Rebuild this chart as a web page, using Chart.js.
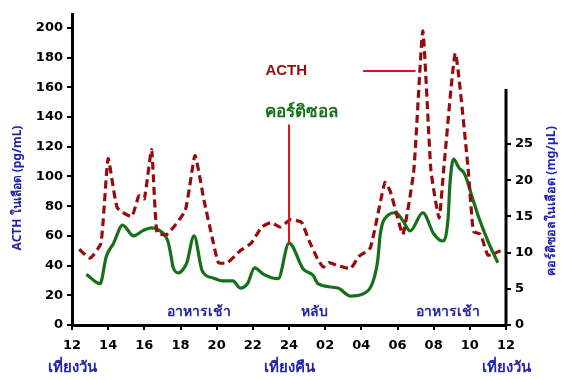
<!DOCTYPE html>
<html><head><meta charset="utf-8">
<script src="https://cdn.jsdelivr.net/npm/chart.js@4.4.0/dist/chart.umd.min.js"></script>
<style>html,body{margin:0;padding:0;background:#fff}</style>
</head><body>
<canvas id="c" width="570" height="380"></canvas>
<script>
// ---- data ----
const acthHours  = [12.4, 13.0, 13.6, 14.0, 14.5, 15.3, 15.7, 16.0, 16.4, 16.7, 17.25, 18.26, 18.8, 19.3, 19.75, 20.1, 20.6, 21.3, 21.9, 22.5, 23.0, 23.5, 24.1, 24.7, 25.1, 25.6, 25.9, 26.2, 26.7, 27.4, 27.85, 28.5, 29.3, 29.6, 29.9, 30.3, 30.9, 31.4, 31.85, 32.3, 32.55, 33.2, 33.9, 34.2, 34.6, 35.0, 35.7];
const acthValues = [51, 45, 55, 112, 79, 73, 87, 85, 118, 62, 61, 77, 114, 84, 59, 42, 42, 50, 55, 66, 69, 66, 71, 69, 57, 44, 39, 42, 40, 38, 46, 52, 96, 90, 77, 61, 104, 198, 104, 72, 104, 183, 106, 63, 61, 47, 50];
const cortHours  = [12.8, 13.55, 13.9, 14.3, 14.8, 15.4, 15.9, 16.4, 16.8, 17.3, 17.45, 17.6, 17.9, 18.15, 18.35, 18.75, 19.2, 19.8, 20.3, 20.9, 21.3, 21.7, 22.1, 22.6, 23.4, 24.0, 24.8, 25.35, 25.6, 26.7, 27.4, 28.1, 28.6, 28.9, 29.05, 29.45, 29.9, 30.3, 30.7, 31.4, 32.0, 32.5, 32.8, 32.9, 33.1, 33.4, 33.7, 34.2, 34.5, 35.0, 35.55];
const cortValues = [7.0, 5.7, 9.5, 11.3, 13.8, 12.3, 13.0, 13.4, 13.1, 11.6, 9.9, 7.9, 7.2, 7.7, 8.6, 12.3, 7.5, 6.5, 6.1, 6.1, 5.1, 5.7, 7.9, 7.0, 6.4, 11.3, 7.7, 6.8, 5.7, 5.1, 4.0, 4.3, 5.7, 8.8, 12.6, 15.1, 15.5, 14.4, 13.0, 15.5, 12.6, 11.6, 14.8, 19.5, 22.9, 21.7, 20.9, 17.1, 14.8, 11.6, 8.6];
const xTicks      = [12, 14, 16, 18, 20, 22, 24, 26, 28, 30, 32, 34, 36];
const xTickLabels = ['12', '14', '16', '18', '20', '22', '24', '02', '04', '06', '08', '10', '12'];
const leftTicks   = [0, 20, 40, 60, 80, 100, 120, 140, 160, 180, 200];
const rightTicks  = [0, 5, 10, 15, 20, 25];
const periodLabels = [{h: 12, t: 'เที่ยงวัน'}, {h: 24, t: 'เที่ยงคืน'}, {h: 36, t: 'เที่ยงวัน'}];
const eventLabels  = [{h: 19.0, t: 'อาหารเช้า'}, {h: 25.4, t: 'หลับ'}, {h: 32.8, t: 'อาหารเช้า'}];
const leftTitle  = 'ACTH ในเลือด (pg/mL)';
const rightTitle = 'คอร์ติซอลในเลือด (mg/µL)';

const BLUE = '#2424a8', DARKRED = '#960c0c', GREEN = '#16701a', RED = '#e01414';
const THAI = "'Noto Sans', 'DejaVu Sans', sans-serif";
const TICKFONT = {family: "'DejaVu Sans', sans-serif", size: 13, weight: 'bold'};

const deco = {
  id: 'deco',
  afterDraw(chart) {
    const {ctx, scales: {x, y, y2}} = chart;
    ctx.save();
    // right axis partial border
    ctx.strokeStyle = '#000'; ctx.lineWidth = 3;
    const rx = chart.chartArea.right;
    ctx.beginPath(); ctx.moveTo(rx, y2.getPixelForValue(32.6)); ctx.lineTo(rx, y2.getPixelForValue(0) + 1.5); ctx.stroke();
    // callout lines
    ctx.strokeStyle = RED; ctx.lineWidth = 2;
    ctx.beginPath(); ctx.moveTo(x.getPixelForValue(28.1), y.getPixelForValue(171)); ctx.lineTo(x.getPixelForValue(31.0), y.getPixelForValue(171)); ctx.stroke();
    ctx.beginPath(); ctx.moveTo(x.getPixelForValue(24), y.getPixelForValue(135)); ctx.lineTo(x.getPixelForValue(24), y2.getPixelForValue(11.3)); ctx.stroke();
    // series labels
    ctx.textAlign = 'center'; ctx.textBaseline = 'middle';
    ctx.fillStyle = DARKRED; ctx.font = "bold 15px 'Liberation Sans', Arial, sans-serif";
    ctx.fillText('ACTH', x.getPixelForValue(23.85), y.getPixelForValue(171));
    ctx.fillStyle = GREEN; ctx.font = 'bold 17px ' + THAI;
    ctx.fillText('คอร์ติซอล', x.getPixelForValue(24.7), y.getPixelForValue(143));
    // event labels
    ctx.fillStyle = BLUE; ctx.font = 'bold 14px ' + THAI;
    eventLabels.forEach(e => ctx.fillText(e.t, x.getPixelForValue(e.h), y.getPixelForValue(9)));
    ctx.font = 'bold 15px ' + THAI;
    periodLabels.forEach(e => ctx.fillText(e.t, x.getPixelForValue(e.h), 368));
    // axis titles
    ctx.font = 'bold 12px ' + THAI;
    ctx.save(); ctx.translate(18, 188); ctx.rotate(-Math.PI / 2); ctx.fillText(leftTitle, 0, 0); ctx.restore();
    ctx.font = 'bold 12.5px ' + THAI;
    ctx.save(); ctx.translate(551, 201); ctx.rotate(-Math.PI / 2); ctx.fillText(rightTitle, 0, 0); ctx.restore();
    ctx.restore();
  }
};

new Chart(document.getElementById('c'), {
  type: 'line',
  data: {
    datasets: [
      {
        label: 'ACTH', yAxisID: 'y',
        data: acthHours.map((h, i) => ({x: h, y: acthValues[i]})),
        borderColor: DARKRED, borderWidth: 3.2, borderDash: [8, 4.5],
        pointRadius: 0, fill: false, tension: 0.15
      },
      {
        label: 'Cortisol', yAxisID: 'y2',
        data: cortHours.map((h, i) => ({x: h, y: cortValues[i]})),
        borderColor: GREEN, borderWidth: 3.2,
        pointRadius: 0, fill: false, cubicInterpolationMode: 'monotone'
      }
    ]
  },
  options: {
    responsive: false, animation: false, devicePixelRatio: 1,
    layout: {padding: {top: 14, left: 0, right: 0, bottom: 0}},
    plugins: {legend: {display: false}, tooltip: {enabled: false}},
    scales: {
      x: {
        type: 'linear', min: 12, max: 36,
        afterBuildTicks: s => { s.ticks = xTicks.map(v => ({value: v})); },
        afterFit: s => { s.height = 55; },
        ticks: {font: TICKFONT, color: '#000', padding: 8, maxRotation: 0,
          callback: (v) => { const i = xTicks.indexOf(v); return i >= 0 ? xTickLabels[i] : ''; }},
        grid: {drawOnChartArea: false, drawTicks: true, tickLength: 5, color: '#000', lineWidth: 2},
        border: {display: true, color: '#000', width: 3}
      },
      y: {
        type: 'linear', position: 'left', min: 0, max: 209.4,
        afterBuildTicks: s => { s.ticks = leftTicks.map(v => ({value: v})); },
        afterFit: s => { s.width = 72; },
        ticks: {font: TICKFONT, color: '#000', padding: 4},
        grid: {drawOnChartArea: false, drawTicks: true, tickLength: 5, color: '#000', lineWidth: 2},
        border: {display: true, color: '#000', width: 3}
      },
      y2: {
        type: 'linear', position: 'right', min: 0, max: 42.95,
        afterBuildTicks: s => { s.ticks = rightTicks.map(v => ({value: v})); },
        afterFit: s => { s.width = 64; },
        ticks: {font: TICKFONT, color: '#000', padding: 4},
        grid: {drawOnChartArea: false, drawTicks: true, tickLength: 5, color: '#000', lineWidth: 2},
        border: {display: false}
      }
    }
  },
  plugins: [deco]
});
</script>
</body></html>
